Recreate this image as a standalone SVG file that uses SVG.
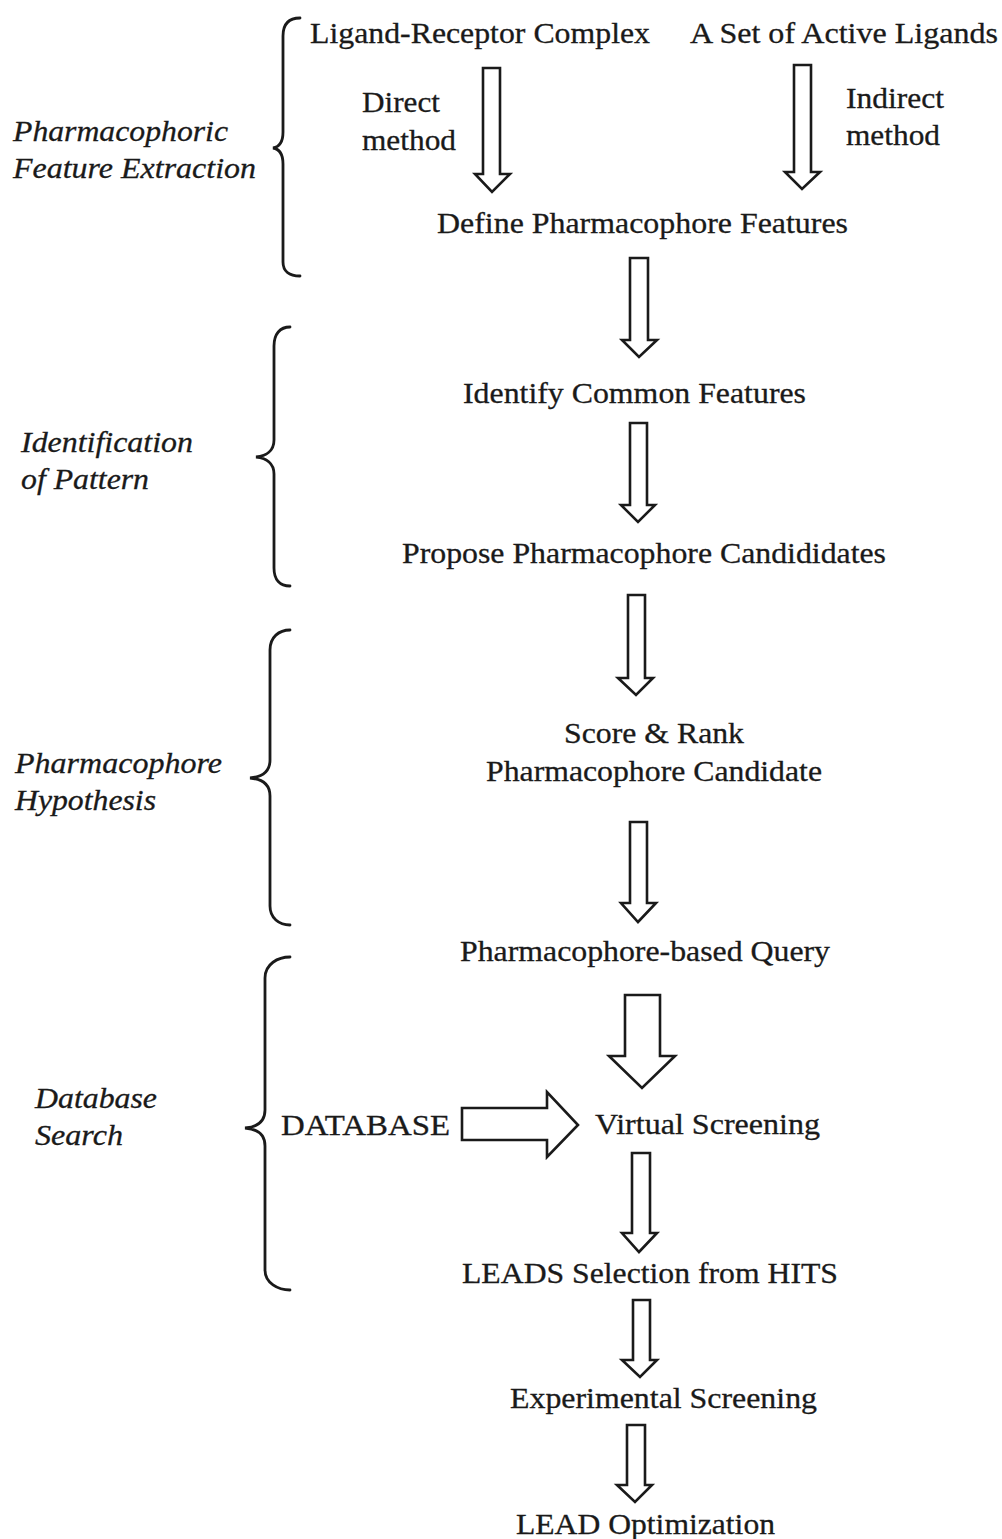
<svg xmlns="http://www.w3.org/2000/svg" width="1002" height="1539" viewBox="0 0 1002 1539">
<style>
text{font-family:"Liberation Serif","Times New Roman",serif;font-size:30px;fill:#1a1a1a;stroke:#1a1a1a;stroke-width:0.3}
.it{font-style:italic}
.arr{fill:#fff;stroke:#1a1a1a;stroke-width:2.6;stroke-linejoin:miter}
.br{fill:none;stroke:#1a1a1a;stroke-width:2.8;stroke-linecap:round}
</style>
<rect width="1002" height="1539" fill="#fff"/>
<g id="braces">
<path class="br" d="M300 18 C289 18 283 24 283 36 L283 132 C283 142 279 147 273 148 C279 149 283 154 283 164 L283 262 C283 271 289 276 300 276"/>
<path class="br" d="M290 327 C280 327 274 334 274 346 L274 440 C274 451 266 456 256 457 C266 458 274 463 274 474 L274 568 C274 580 280 586 290 586"/>
<path class="br" d="M290 630 C279 630 270 637 270 650 L270 760 C270 772 262 777 250 778 C262 779 270 784 270 796 L270 906 C270 918 279 925 290 925"/>
<path class="br" d="M290 957 C278 957 265 964 265 978 L265 1110 C265 1122 257 1127 245 1128 C257 1129 265 1134 265 1146 L265 1270 C265 1283 278 1290 290 1290"/>
</g>
<g id="section-labels">
<text class="it" x="13" y="141" textLength="215" lengthAdjust="spacingAndGlyphs">Pharmacophoric</text>
<text class="it" x="13" y="178" textLength="243" lengthAdjust="spacingAndGlyphs">Feature Extraction</text>
<text class="it" x="21" y="452" textLength="172" lengthAdjust="spacingAndGlyphs">Identification</text>
<text class="it" x="21" y="489" textLength="128" lengthAdjust="spacingAndGlyphs">of Pattern</text>
<text class="it" x="15" y="773" textLength="207" lengthAdjust="spacingAndGlyphs">Pharmacophore</text>
<text class="it" x="15" y="810" textLength="141" lengthAdjust="spacingAndGlyphs">Hypothesis</text>
<text class="it" x="35" y="1108" textLength="122" lengthAdjust="spacingAndGlyphs">Database</text>
<text class="it" x="35" y="1145" textLength="88" lengthAdjust="spacingAndGlyphs">Search</text>
</g>
<g id="connectors">
<path class="arr" d="M483 68 H500 V174 H510 L492 192 L475 174 H483 Z"/>
<path class="arr" d="M794 65 H811 V172 H820 L802 189 L785 172 H794 Z"/>
<path class="arr" d="M630 258 H648 V340 H657 L639 357 L622 340 H630 Z"/>
<path class="arr" d="M630 423 H647 V505 H655 L638 522 L621 505 H630 Z"/>
<path class="arr" d="M628 595 H645 V678 H653 L636 695 L618 678 H628 Z"/>
<path class="arr" d="M630 822 H647 V903 H656 L638 922 L621 903 H630 Z"/>
<path class="arr" d="M625 995 H660 V1056 H675 L642 1088 L609 1056 H625 Z"/>
<path class="arr" d="M632 1153 H650 V1233 H657 L639 1252 L622 1233 H632 Z"/>
<path class="arr" d="M633 1300 H650 V1360 H657 L640 1377 L622 1360 H633 Z"/>
<path class="arr" d="M627 1425 H645 V1485 H652 L635 1502 L617 1485 H627 Z"/>
<path class="arr" d="M462 1108 H547 V1092 L578 1125 L547 1157 V1140 H462 Z"/>
</g>
<g id="n-ligand-receptor"><text x="310" y="43" textLength="340" lengthAdjust="spacingAndGlyphs">Ligand-Receptor Complex</text></g>
<g id="n-active-ligands"><text x="690" y="43" textLength="308" lengthAdjust="spacingAndGlyphs">A Set of Active Ligands</text></g>
<g id="l-direct">
<text x="362" y="112" textLength="78" lengthAdjust="spacingAndGlyphs">Direct</text>
<text x="362" y="150" textLength="94" lengthAdjust="spacingAndGlyphs">method</text>
</g>
<g id="l-indirect">
<text x="846" y="108" textLength="98" lengthAdjust="spacingAndGlyphs">Indirect</text>
<text x="846" y="145" textLength="94" lengthAdjust="spacingAndGlyphs">method</text>
</g>
<g id="n-define"><text x="437" y="233" textLength="411" lengthAdjust="spacingAndGlyphs">Define Pharmacophore Features</text></g>
<g id="n-identify"><text x="463" y="403" textLength="343" lengthAdjust="spacingAndGlyphs">Identify Common Features</text></g>
<g id="n-propose"><text x="402" y="563" textLength="484" lengthAdjust="spacingAndGlyphs">Propose Pharmacophore Candididates</text></g>
<g id="n-score">
<text x="564" y="743" textLength="180" lengthAdjust="spacingAndGlyphs">Score &amp; Rank</text>
<text x="486" y="781" textLength="336" lengthAdjust="spacingAndGlyphs">Pharmacophore Candidate</text>
</g>
<g id="n-query"><text x="460" y="961" textLength="370" lengthAdjust="spacingAndGlyphs">Pharmacophore-based Query</text></g>
<g id="n-database"><text x="281" y="1135" textLength="169" lengthAdjust="spacingAndGlyphs">DATABASE</text></g>
<g id="n-virtual"><text x="595" y="1134" textLength="225" lengthAdjust="spacingAndGlyphs">Virtual Screening</text></g>
<g id="n-leads"><text x="462" y="1283" textLength="376" lengthAdjust="spacingAndGlyphs">LEADS Selection from HITS</text></g>
<g id="n-experimental"><text x="510" y="1408" textLength="307" lengthAdjust="spacingAndGlyphs">Experimental Screening</text></g>
<g id="n-lead-opt"><text x="516" y="1534" textLength="259" lengthAdjust="spacingAndGlyphs">LEAD Optimization</text></g>
</svg>
